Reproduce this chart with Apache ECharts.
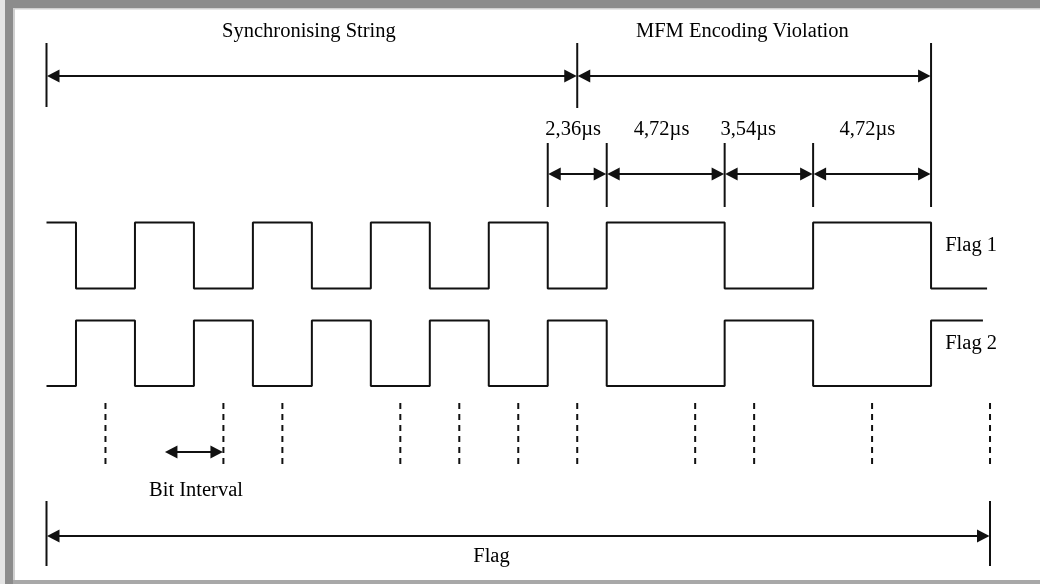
<!DOCTYPE html>
<html><head><meta charset="utf-8">
<script src="https://cdn.jsdelivr.net/npm/echarts@6/dist/echarts.min.js"></script>
<style>html,body{margin:0;padding:0;background:#fff}#c{width:1040px;height:584px}</style>
</head><body><div id="c"></div><script>
// ---- Data (time in bit-cell units, 1 unit = 2,36 µs) ----
const flag1StartLevel = 1;
const flag1Edges = [0.5, 1.5, 2.5, 3.5, 4.5, 5.5, 6.5, 7.5, 8.5, 9.5, 11.5, 13, 15];
const flag1Range = [0, 15.95];
const flag2StartLevel = 0;
const flag2Edges = [0.5, 1.5, 2.5, 3.5, 4.5, 5.5, 6.5, 7.5, 8.5, 9.5, 11.5, 13, 15];
const flag2Range = [0, 15.88];
const bitMarks = [1, 3, 4, 6, 7, 8, 9, 11, 12, 14, 16];
const topSpanStarts = [0, 9];
const topSpanEnds = [9, 15];
const topLabels = ['Synchronising String', 'MFM Encoding Violation'];
const topLabelPos = [4.45, 11.8];
const segStarts = [8.5, 9.5, 11.5, 13];
const segEnds = [9.5, 11.5, 13, 15];
const segLabels = ['2,36µs', '4,72µs', '3,54µs', '4,72µs'];
const segLabelPos = [8.93, 10.43, 11.9, 13.92];
const bitSpan = [2, 3];
const flagSpan = [0, 16];
const laneLabels = ['Flag 1', 'Flag 2'];

// ---- Layout (vertical positions in px) ----
const L = {
  rowTop: 76, rowSeg: 174, rowBit: 452, rowFlag: 536,
  lane1: [288.5, 222.5], lane2: [386, 320.5],
  topTick: [43, 107], topTickLong: [43, 207], segTick: [143, 207], flagTick: [501, 566],
  dash: [403, 466],
  txtTop: 32, txtSeg: 130, txtLane1: 246, txtLane2: 344, txtBit: 491, txtFlag: 557
};
const X0 = 46.5, U = 58.97;
const INK = '#111';
const FONT = '"Liberation Serif", "Times New Roman", serif';

function wave(startLevel, edges, range, lane) {
  const pts = [];
  let lvl = startLevel;
  pts.push([range[0], lane[lvl]]);
  edges.forEach(e => {
    pts.push([e, lane[lvl]]);
    lvl = 1 - lvl;
    pts.push([e, lane[lvl]]);
  });
  pts.push([range[1], lane[lvl]]);
  return pts;
}

const arrows = [];
topSpanStarts.forEach((s, i) => arrows.push([s, topSpanEnds[i], L.rowTop]));
segStarts.forEach((s, i) => arrows.push([s, segEnds[i], L.rowSeg]));
arrows.push([bitSpan[0], bitSpan[1], L.rowBit]);
arrows.push([flagSpan[0], flagSpan[1], L.rowFlag]);

const ticks = [
  [topSpanStarts[0], L.topTick[0], L.topTick[1]],
  [topSpanEnds[0], L.topTick[0], L.topTick[1] + 1],
  [topSpanEnds[1], L.topTickLong[0], L.topTickLong[1]]
];
segStarts.forEach(s => ticks.push([s, L.segTick[0], L.segTick[1]]));
ticks.push([flagSpan[0], L.flagTick[0], L.flagTick[1]]);
ticks.push([flagSpan[1], L.flagTick[0], L.flagTick[1]]);

const dashes = bitMarks.map(b => [b, L.dash[0], L.dash[1]]);

const texts = [];
topLabels.forEach((t, i) => texts.push({ v: [topLabelPos[i], L.txtTop], t, a: 'center' }));
segLabels.forEach((t, i) => texts.push({ v: [segLabelPos[i], L.txtSeg], t, a: 'center' }));
texts.push({ v: [15.24, L.txtLane1], t: laneLabels[0], a: 'left' });
texts.push({ v: [15.24, L.txtLane2], t: laneLabels[1], a: 'left' });
texts.push({ v: [2.535, L.txtBit], t: 'Bit Interval', a: 'center' });
texts.push({ v: [7.546, L.txtFlag], t: 'Flag', a: 'center' });

function renderArrow(params, api) {
  const p1 = api.coord([api.value(0), api.value(2)]);
  const p2 = api.coord([api.value(1), api.value(2)]);
  const AL = 13, AH = 6.5;
  return { type: 'group', children: [
    { type: 'line', shape: { x1: p1[0] + AL - 2, y1: p1[1], x2: p2[0] - AL + 2, y2: p2[1] }, style: { stroke: INK, lineWidth: 2 } },
    { type: 'polygon', shape: { points: [[p1[0] + 0.5, p1[1]], [p1[0] + AL, p1[1] - AH], [p1[0] + AL, p1[1] + AH]] }, style: { fill: INK } },
    { type: 'polygon', shape: { points: [[p2[0] - 0.5, p2[1]], [p2[0] - AL, p2[1] - AH], [p2[0] - AL, p2[1] + AH]] }, style: { fill: INK } }
  ]};
}
function renderVLine(dash) {
  return function (params, api) {
    const a = api.coord([api.value(0), api.value(1)]);
    const b = api.coord([api.value(0), api.value(2)]);
    return { type: 'line', shape: { x1: a[0], y1: a[1], x2: b[0], y2: b[1] },
      style: { stroke: INK, lineWidth: 2, lineDash: dash ? [6, 5] : null } };
  };
}
function renderText(params, api) {
  const item = texts[params.dataIndex];
  const p = api.coord(item.v);
  return { type: 'text', x: p[0], y: p[1],
    style: { text: item.t, fill: '#000', fontSize: 20.5, fontFamily: FONT, align: item.a, verticalAlign: 'middle' } };
}

const chart = echarts.init(document.getElementById('c'), null, { renderer: 'canvas' });
chart.setOption({
  animation: false,
  backgroundColor: '#fff',
  grid: { left: 0, right: 0, top: 0, bottom: 0 },
  xAxis: { type: 'value', min: -X0 / U, max: (1040 - X0) / U, show: false },
  yAxis: { type: 'value', min: 0, max: 584, inverse: true, show: false },
  graphic: [
    { type: 'rect', shape: { x: 0, y: 0, width: 5, height: 584 }, style: { fill: '#e4e4e4' }, z: 100 },
    { type: 'rect', shape: { x: 5, y: 0, width: 8, height: 584 }, style: { fill: '#8c8c8c' }, z: 100 },
    { type: 'rect', shape: { x: 13, y: 0, width: 2, height: 584 }, style: { fill: '#d0d0d0' }, z: 99 },
    { type: 'rect', shape: { x: 5, y: 0, width: 1035, height: 8 }, style: { fill: '#8c8c8c' }, z: 100 },
    { type: 'rect', shape: { x: 13, y: 8, width: 1027, height: 1.5 }, style: { fill: '#d0d0d0' }, z: 99 },
    { type: 'rect', shape: { x: 13, y: 580, width: 1027, height: 4 }, style: { fill: '#a8a8a8' }, z: 100 }
  ],
  series: [
    { name: 'Flag 1', type: 'line', data: wave(flag1StartLevel, flag1Edges, flag1Range, L.lane1),
      showSymbol: false, symbol: 'none', lineStyle: { color: INK, width: 2 }, silent: true },
    { name: 'Flag 2', type: 'line', data: wave(flag2StartLevel, flag2Edges, flag2Range, L.lane2),
      showSymbol: false, symbol: 'none', lineStyle: { color: INK, width: 2 }, silent: true },
    { type: 'custom', renderItem: renderArrow, data: arrows, silent: true },
    { type: 'custom', renderItem: renderVLine(false), data: ticks, silent: true },
    { type: 'custom', renderItem: renderVLine(true), data: dashes, silent: true },
    { type: 'custom', renderItem: renderText, data: texts.map(t => t.v), silent: true }
  ]
});
</script></body></html>
